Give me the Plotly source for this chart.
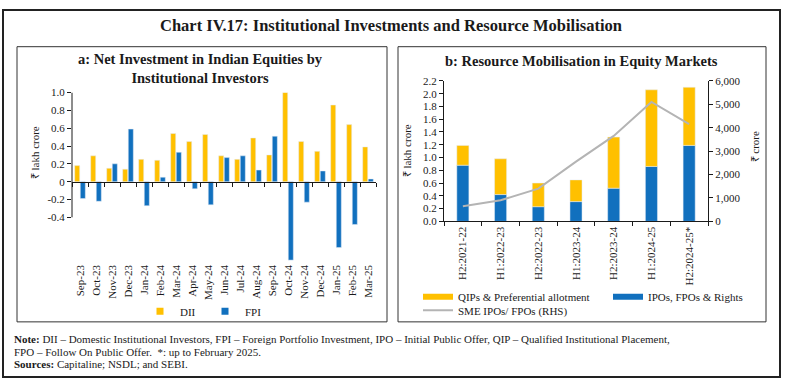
import plotly.graph_objects as go

# ---------------- data ----------------
months = ["Sep-23", "Oct-23", "Nov-23", "Dec-23", "Jan-24", "Feb-24", "Mar-24", "Apr-24",
          "May-24", "Jun-24", "Jul-24", "Aug-24", "Sep-24", "Oct-24", "Nov-24", "Dec-24",
          "Jan-25", "Feb-25", "Mar-25"]
dii = [0.18, 0.29, 0.15, 0.14, 0.25, 0.24, 0.54, 0.45, 0.53, 0.29, 0.25, 0.49, 0.30, 1.00,
       0.45, 0.34, 0.86, 0.64, 0.39]
fpi = [-0.19, -0.22, 0.20, 0.59, -0.27, 0.05, 0.33, -0.08, -0.26, 0.27, 0.29, 0.13, 0.51,
       -0.88, -0.23, 0.12, -0.74, -0.48, 0.03]

periods = ["H2:2021-22", "H1:2022-23", "H2:2022-23", "H1:2023-24", "H2:2023-24",
           "H1:2024-25", "H2:2024-25*"]
ipo = [0.88, 0.42, 0.23, 0.31, 0.52, 0.86, 1.19]
qip = [0.31, 0.56, 0.37, 0.34, 0.80, 1.20, 0.91]
sme = [650, 900, 1400, 2550, 3650, 5100, 4150]

a_ticks = [-0.4, -0.2, 0, 0.2, 0.4, 0.6, 0.8, 1.0]
a_ticktext = ["-0.4", "-0.2", "0", "0.2", "0.4", "0.6", "0.8", "1.0"]
b_ticks = [round(0.2 * i, 1) for i in range(12)]
b_ticktext = [f"{v:.1f}" for v in b_ticks]
r_ticks = [0, 1000, 2000, 3000, 4000, 5000, 6000]
r_ticktext = ["0", "1,000", "2,000", "3,000", "4,000", "5,000", "6,000"]

# ---------------- style ----------------
W, H = 785, 386
YEL = "#FFC000"
BLUE = "#1170BE"
GRAY = "#B4B4B4"
INK = "#1a1a1a"
FONT = "Liberation Serif"


def px(x):
    return x / W


def py(y):
    return 1 - y / H


fig = go.Figure()

# Panel a bars
fig.add_trace(go.Bar(x=months, y=dii, name="DII", marker_color=YEL, xaxis="x", yaxis="y",
                     showlegend=False))
fig.add_trace(go.Bar(x=months, y=fpi, name="FPI", marker_color=BLUE, xaxis="x", yaxis="y",
                     showlegend=False))
# helper trace for zero-line axis
fig.add_trace(go.Scatter(x=[], y=[], xaxis="x3", yaxis="y", showlegend=False, hoverinfo="skip"))
# legend entries panel a
fig.add_trace(go.Scatter(x=[None], y=[None], mode="markers", name="DII",
                         marker=dict(symbol="square", size=7, color=YEL),
                         xaxis="x", yaxis="y", legend="legend"))
fig.add_trace(go.Scatter(x=[None], y=[None], mode="markers", name="FPI",
                         marker=dict(symbol="square", size=7, color=BLUE),
                         xaxis="x", yaxis="y", legend="legend"))

# Panel b stacked bars
fig.add_trace(go.Bar(x=periods, y=ipo, name="IPOs, FPOs & Rights", marker_color=BLUE,
                     xaxis="x2", yaxis="y2", width=0.32, offset=-0.16, showlegend=False))
fig.add_trace(go.Bar(x=periods, y=qip, base=ipo, name="QIPs & Preferential allotment",
                     marker_color=YEL, xaxis="x2", yaxis="y2", width=0.32, offset=-0.16,
                     showlegend=False))
fig.add_trace(go.Scatter(x=periods, y=sme, mode="lines", name="SME IPOs/ FPOs (RHS)",
                         line=dict(color=GRAY, width=2), xaxis="x2", yaxis="y3",
                         legend="legend3"))
# legend entries panel b
fig.add_trace(go.Scatter(x=[None], y=[None], mode="lines", name="QIPs & Preferential allotment",
                         line=dict(color=YEL, width=6), xaxis="x2", yaxis="y2",
                         legend="legend2"))
fig.add_trace(go.Scatter(x=[None], y=[None], mode="lines", name="IPOs, FPOs & Rights",
                         line=dict(color=BLUE, width=6), xaxis="x2", yaxis="y2",
                         legend="legend4"))

# domains
a_x = [px(72), px(376)]
a_y = [py(264.1), py(89.3)]
b_x = [px(444), px(708)]
b_y = [py(222.3), py(77.3)]
zero_pos = py(181.3)

tickfont = dict(family=FONT, size=11, color=INK)
legfont = dict(family=FONT, size=11, color=INK)

fig.update_layout(
    width=W, height=H, margin=dict(l=0, r=0, t=0, b=0),
    paper_bgcolor="white", plot_bgcolor="white",
    font=dict(family=FONT, size=11, color=INK),
    barmode="group", bargap=0.3, bargroupgap=0.1,
    xaxis=dict(domain=a_x, anchor="y", type="category", showline=False, ticks="",
               tickangle=-90, tickfont=tickfont, showgrid=False, zeroline=False),
    xaxis3=dict(domain=a_x, overlaying="x", anchor="free", position=zero_pos,
                range=[-0.5, 18.5], tickmode="linear", tick0=-0.5, dtick=1,
                ticks="outside", ticklen=4, tickcolor=INK, showticklabels=False,
                showline=True, linecolor=INK, linewidth=1, showgrid=False, zeroline=False),
    yaxis=dict(domain=a_y, anchor="x", range=[-0.9, 1.0], tickvals=a_ticks,
               ticktext=a_ticktext, ticks="outside", ticklen=4, tickcolor=INK,
               showline=False, showgrid=False, zeroline=False, tickfont=tickfont),
    xaxis2=dict(domain=b_x, anchor="y2", type="category", range=[-0.5, 6.5],
                showline=True, linecolor=INK, ticks="outside", tickson="boundaries",
                ticklen=4, tickcolor=INK, tickangle=-90, tickfont=tickfont,
                showgrid=False, zeroline=False),
    yaxis2=dict(domain=b_y, anchor="x2", range=[0, 2.2], tickvals=b_ticks,
                ticktext=b_ticktext, ticks="outside", ticklen=4, tickcolor=INK,
                showline=True, linecolor=INK, showgrid=False, zeroline=False,
                tickfont=tickfont),
    yaxis3=dict(domain=b_y, anchor="x2", overlaying="y2", side="right", range=[0, 6000],
                tickvals=r_ticks, ticktext=r_ticktext, ticks="outside", ticklen=4,
                tickcolor=INK, showline=True, linecolor=INK, showgrid=False,
                zeroline=False, tickfont=tickfont),
    legend=dict(orientation="h", x=px(140), y=py(315), xanchor="left", yanchor="middle",
                font=legfont, entrywidth=20, bgcolor="rgba(0,0,0,0)"),
    legend2=dict(orientation="h", x=px(418), y=py(300), xanchor="left", yanchor="middle",
                 font=legfont, bgcolor="rgba(0,0,0,0)"),
    legend4=dict(orientation="h", x=px(608), y=py(300), xanchor="left", yanchor="middle",
                 font=legfont, bgcolor="rgba(0,0,0,0)"),
    legend3=dict(orientation="h", x=px(418), y=py(314), xanchor="left", yanchor="middle",
                 font=legfont, bgcolor="rgba(0,0,0,0)"),
)

# axis line for panel a (left), from -0.4 to 1.0
fig.add_shape(type="line", xref="x domain", yref="y", x0=0, x1=0, y0=-0.4, y1=1.0,
              line=dict(color=INK, width=1))

# frames
fig.add_shape(type="rect", xref="paper", yref="paper", x0=px(3), x1=px(780), y0=py(383),
              y1=py(4), line=dict(color="#222222", width=2))
fig.add_shape(type="rect", xref="paper", yref="paper", x0=px(17), x1=px(387), y0=py(326),
              y1=py(42), line=dict(color="#333333", width=1))
fig.add_shape(type="rect", xref="paper", yref="paper", x0=px(398), x1=px(766), y0=py(326),
              y1=py(42), line=dict(color="#333333", width=1))

ann = []
ann.append(dict(text="<b>Chart IV.17: Institutional Investments and Resource Mobilisation</b>",
                x=px(391), y=py(20), xref="paper", yref="paper", showarrow=False,
                xanchor="center", yanchor="middle", font=dict(family=FONT, size=16.5, color=INK)))
ann.append(dict(text="<b>a: Net Investment in Indian Equities by<br>Institutional Investors</b>",
                x=px(200), y=py(65), xref="paper", yref="paper", showarrow=False,
                xanchor="center", yanchor="middle", font=dict(family=FONT, size=14.5, color=INK)))
ann.append(dict(text="<b>b: Resource Mobilisation in Equity Markets</b>",
                x=px(581), y=py(57), xref="paper", yref="paper", showarrow=False,
                xanchor="center", yanchor="middle", font=dict(family=FONT, size=14.5, color=INK)))
ann.append(dict(text="₹ lakh crore", x=px(35), y=py(152), xref="paper", yref="paper",
                showarrow=False, textangle=-90, xanchor="center", yanchor="middle",
                font=dict(family=FONT, size=11, color=INK)))
ann.append(dict(text="₹ lakh crore", x=px(407), y=py(150), xref="paper", yref="paper",
                showarrow=False, textangle=-90, xanchor="center", yanchor="middle",
                font=dict(family=FONT, size=11, color=INK)))
ann.append(dict(text="₹ crore", x=px(755), y=py(146), xref="paper", yref="paper",
                showarrow=False, textangle=-90, xanchor="center", yanchor="middle",
                font=dict(family=FONT, size=11, color=INK)))
notes = [
    "<b>Note:</b> DII – Domestic Institutional Investors, FPI – Foreign Portfolio Investment, "
    "IPO – Initial Public Offer, QIP – Qualified Institutional Placement,",
    "FPO – Follow On Public Offer.  *: up to February 2025.",
    "<b>Sources:</b> Capitaline; NSDL; and SEBI.",
]
for i, t in enumerate(notes):
    ann.append(dict(text=t, x=px(12), y=py(344 + 13 * i), xref="paper", yref="paper",
                    showarrow=False, xanchor="left", yanchor="middle",
                    font=dict(family=FONT, size=11, color=INK)))
fig.update_layout(annotations=ann)

fig.write_html("out.html", config={"responsive": False, "displayModeBar": False},
               post_script="document.body.style.margin='0';")
